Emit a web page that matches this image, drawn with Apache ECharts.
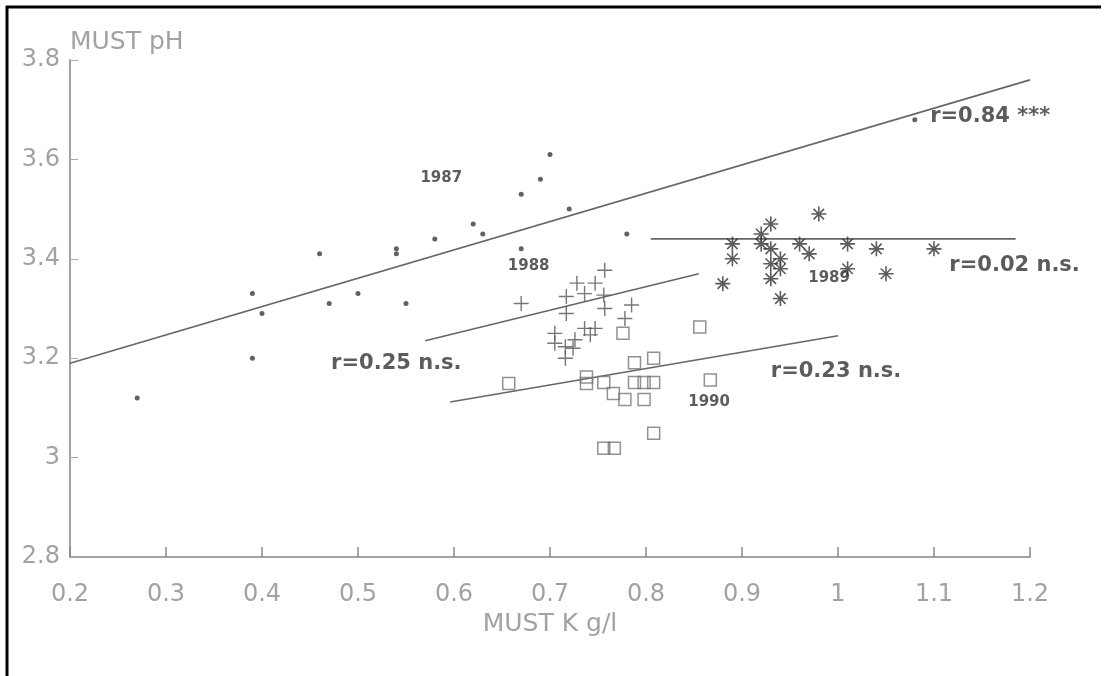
<!DOCTYPE html>
<html>
<head>
<meta charset="utf-8">
<script src="https://cdn.jsdelivr.net/npm/echarts@6/dist/echarts.min.js"></script>
<style>
  html, body { margin: 0; padding: 0; background: #fff; }
  #main { width: 1107px; height: 676px; }
</style>
</head>
<body>
<div id="main"></div>
<script>
// K (g/l) vs pH, one array per vintage
const y1987 = [
  [0.27, 3.12], [0.39, 3.20], [0.39, 3.33], [0.40, 3.29], [0.46, 3.41],
  [0.47, 3.31], [0.50, 3.33], [0.54, 3.42], [0.54, 3.41], [0.55, 3.31],
  [0.58, 3.44], [0.62, 3.47], [0.63, 3.45], [0.67, 3.53], [0.67, 3.42],
  [0.69, 3.56], [0.70, 3.61], [0.72, 3.50], [0.78, 3.45], [1.08, 3.68]
];
const y1988 = [
  [0.67, 3.31], [0.705, 3.25], [0.705, 3.23], [0.716, 3.223], [0.716, 3.20],
  [0.724, 3.22], [0.726, 3.237], [0.717, 3.324], [0.717, 3.29], [0.728, 3.351],
  [0.736, 3.33], [0.736, 3.26], [0.742, 3.247], [0.747, 3.351], [0.747, 3.26],
  [0.756, 3.327], [0.757, 3.377], [0.757, 3.30], [0.778, 3.28], [0.785, 3.307]
];
const y1989 = [
  [0.88, 3.35], [0.89, 3.43], [0.89, 3.40], [0.92, 3.45], [0.93, 3.47],
  [0.92, 3.43], [0.93, 3.42], [0.94, 3.40], [0.93, 3.39], [0.94, 3.38],
  [0.93, 3.36], [0.94, 3.32], [0.96, 3.43], [0.97, 3.41], [0.98, 3.49],
  [1.01, 3.43], [1.01, 3.38], [1.04, 3.42], [1.05, 3.37], [1.10, 3.42]
];
const y1990 = [
  [0.657, 3.149], [0.738, 3.162], [0.738, 3.149], [0.756, 3.151], [0.766, 3.129],
  [0.778, 3.117], [0.788, 3.191], [0.808, 3.20], [0.788, 3.151], [0.798, 3.151],
  [0.808, 3.151], [0.798, 3.117], [0.808, 3.049], [0.756, 3.019], [0.767, 3.019],
  [0.776, 3.25], [0.856, 3.263], [0.867, 3.156]
];

// regression lines (end points)
const fit1987 = [[0.2, 3.19], [1.2, 3.76]];
const fit1988 = [[0.57, 3.235], [0.855, 3.37]];
const fit1989 = [[0.805, 3.44], [1.185, 3.44]];
const fit1990 = [[0.596, 3.112], [1.0, 3.245]];

// text notes: [x, y, text]
const yearNotes = [
  [0.565, 3.563, '1987'], [0.656, 3.386, '1988'],
  [0.969, 3.361, '1989'], [0.844, 3.112, '1990']
];
const rNotes = [
  [1.096, 3.687, 'r=0.84 ***'], [1.116, 3.386, 'r=0.02 n.s.'],
  [0.472, 3.19, 'r=0.25 n.s.'], [0.930, 3.174, 'r=0.23 n.s.']
];

const xTicks = { min: 0.2, max: 1.2, interval: 0.1 };
const yTicks = { min: 2.8, max: 3.8, interval: 0.2 };

const axisGrey = '#a2a2a2';
const labelFont = 'DejaVu Sans';

const plusPath = 'path://M0,5L10,5M5,0L5,10';
const starPath = 'path://M5,0L5,10M0,5L10,5M1.5,1.5L8.5,8.5M8.5,1.5L1.5,8.5';

const fitLine = (data) => ({
  type: 'line',
  data: data,
  symbol: 'none',
  silent: true,
  lineStyle: { color: '#666', width: 1.6 },
  z: 1
});

const noteSeries = (notes, style) => ({
  type: 'scatter',
  symbolSize: 0,
  silent: true,
  data: notes.map(n => ({ value: [n[0], n[1]], name: n[2] })),
  label: Object.assign({
    show: true,
    position: [0, 0],
    align: 'left',
    verticalAlign: 'middle',
    formatter: p => p.name,
    fontFamily: labelFont,
    fontWeight: 'bold',
    color: '#333'
  }, style),
  z: 5
});

const option = {
  backgroundColor: '#fff',
  animation: false,
  grid: { left: 70, right: 77, top: 60, bottom: 119, containLabel: false },
  xAxis: {
    type: 'value',
    min: xTicks.min, max: xTicks.max, interval: xTicks.interval,
    name: 'MUST K g/l',
    nameLocation: 'middle',
    nameGap: 55,
    nameTextStyle: { fontFamily: labelFont, fontSize: 25, color: axisGrey },
    axisLine: { show: true, lineStyle: { color: axisGrey, width: 2 } },
    axisTick: { show: true, inside: true, length: 10, lineStyle: { color: '#888', width: 1.5 } },
    axisLabel: { margin: 26, fontFamily: labelFont, fontSize: 24, color: axisGrey },
    splitLine: { show: false }
  },
  yAxis: {
    type: 'value',
    min: yTicks.min, max: yTicks.max, interval: yTicks.interval,
    name: 'MUST pH',
    nameLocation: 'end',
    nameGap: 5,
    nameTextStyle: { fontFamily: labelFont, fontSize: 25, color: axisGrey, align: 'left' },
    axisLine: { show: true, lineStyle: { color: axisGrey, width: 2 } },
    axisTick: { show: true, inside: true, length: 8, lineStyle: { color: '#aaa', width: 1 } },
    axisLabel: { margin: 10, fontFamily: labelFont, fontSize: 24, color: axisGrey },
    splitLine: { show: false }
  },
  graphic: [
    { type: 'line', shape: { x1: 7, y1: 6, x2: 7, y2: 676 }, style: { stroke: '#000', lineWidth: 3 } },
    { type: 'line', shape: { x1: 6, y1: 7, x2: 1101, y2: 7 }, style: { stroke: '#000', lineWidth: 3 } }
  ],
  series: [
    fitLine(fit1987),
    fitLine(fit1988),
    fitLine(fit1989),
    fitLine(fit1990),
    {
      name: '1987', type: 'scatter', data: y1987,
      symbol: 'circle', symbolSize: 5,
      itemStyle: { color: '#3a3a3a' }, z: 3
    },
    {
      name: '1988', type: 'scatter', data: y1988,
      symbol: plusPath, symbolSize: 15,
      itemStyle: { color: 'none', borderColor: '#555', borderWidth: 1.4 }, z: 3
    },
    {
      name: '1989', type: 'scatter', data: y1989,
      symbol: starPath, symbolSize: 15,
      itemStyle: { color: 'none', borderColor: '#333', borderWidth: 1.6 }, z: 3
    },
    {
      name: '1990', type: 'scatter', data: y1990,
      symbol: 'rect', symbolSize: 12,
      itemStyle: { color: 'none', borderColor: '#777', borderWidth: 1.5 }, z: 3
    },
    noteSeries(yearNotes, { fontSize: 15 }),
    noteSeries(rNotes, { fontSize: 21 })
  ]
};

const myChart = echarts.init(document.getElementById('main'));
myChart.setOption(option);
</script>
</body>
</html>
